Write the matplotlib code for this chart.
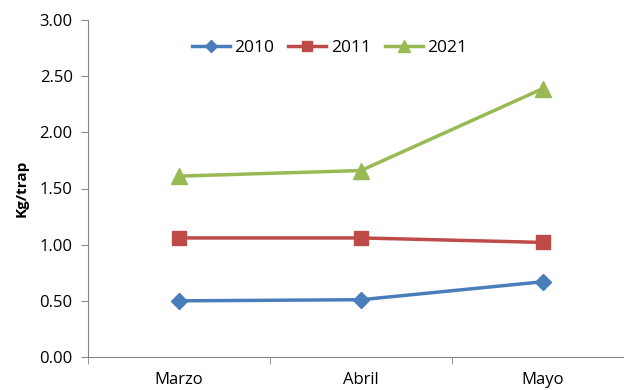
import matplotlib.pyplot as plt
import numpy as np

plt.rcParams['font.family'] = ['Open Sans', 'DejaVu Sans']

months = ["Marzo", "Abril", "Mayo"]
kg_2010 = [0.50, 0.51, 0.67]
kg_2011 = [1.06, 1.06, 1.02]
kg_2021 = [1.61, 1.66, 2.39]

fig = plt.figure(figsize=(6.24, 3.9), dpi=100)
# plot area runs past the right edge of the figure
ax = fig.add_axes([88/624, (390-357)/390, 546/624, 337/390])

x = np.arange(len(months))
ax.plot(x, kg_2010, color='#4a7ebb', lw=2.5, marker='D', ms=8, label='2010')
ax.plot(x, kg_2011, color='#be4b48', lw=2.5, marker='s', ms=10, label='2011')
ax.plot(x, kg_2021, color='#98b954', lw=2.5, marker='^', ms=11, label='2021')

ax.set_xlim(-0.5, 2.5)
ax.set_ylim(0, 3)
ax.set_yticks(np.arange(0, 3.01, 0.5))
ax.set_yticklabels([f"{v:.2f}" for v in np.arange(0, 3.01, 0.5)], fontsize=12)
ax.set_xticks(x)
ax.set_xticklabels(months, fontsize=12)
ax.set_xticks([-0.5, 0.5, 1.5, 2.5], minor=True)
ax.tick_params(axis='x', which='major', length=0, pad=11)
ax.tick_params(axis='x', which='minor', length=5, color='#868686')
ax.tick_params(axis='y', length=5, color='#868686', pad=6)

for s in ['top', 'right']:
    ax.spines[s].set_visible(False)
for s in ['left', 'bottom']:
    ax.spines[s].set_color('#868686')

ax.set_ylabel("Kg/trap", fontsize=11, fontweight='bold', labelpad=8)

ax.legend(loc='center left', bbox_to_anchor=(0.19, 0.918), ncol=3, frameon=False,
          fontsize=12.5, handlelength=2.2, columnspacing=0.8, handletextpad=0.25,
          markerscale=0.75, borderaxespad=0, borderpad=0)

fig.savefig("out.png", dpi=100)
